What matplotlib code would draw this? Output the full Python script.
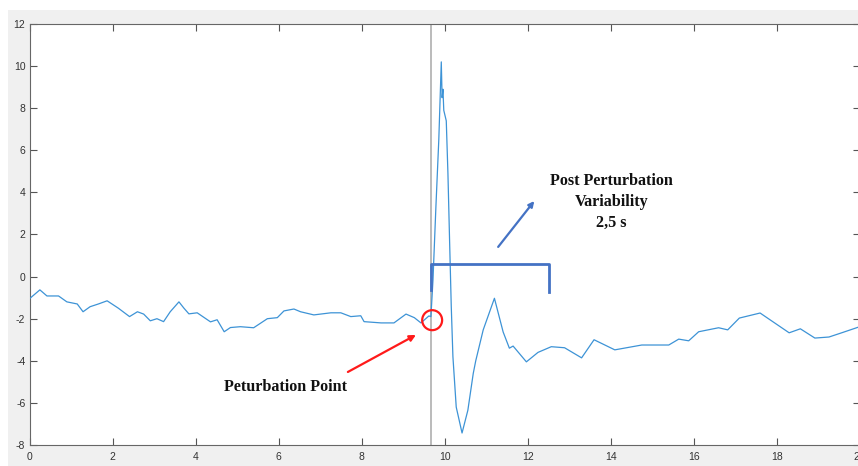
import numpy as np
import matplotlib
matplotlib.use('Agg')
import matplotlib.pyplot as plt
from matplotlib.patches import Ellipse, Rectangle

plt.rcParams['axes.unicode_minus'] = False

# signal (time in s, amplitude)
t = [0.0, 0.25, 0.42, 0.7, 0.9, 1.15, 1.29, 1.46, 1.66, 1.87, 2.14, 2.41,
     2.6, 2.75, 2.91, 3.07, 3.23, 3.39, 3.6, 3.72, 3.84, 4.04, 4.36, 4.52,
     4.69, 4.84, 5.08, 5.4, 5.73, 5.97, 6.13, 6.37, 6.53, 6.85, 7.26, 7.5,
     7.74, 7.98, 8.06, 8.47, 8.78, 9.07, 9.27, 9.43, 9.62, 9.67, 9.72, 9.79,
     9.86, 9.92, 9.94, 9.96, 9.98, 10.04, 10.08, 10.12, 10.16, 10.2, 10.28,
     10.42, 10.56, 10.69, 10.75, 10.93, 11.2, 11.41, 11.56, 11.65, 11.97,
     12.25, 12.57, 12.89, 13.3, 13.6, 14.1, 14.75, 15.4, 15.64, 15.88, 16.12,
     16.6, 16.82, 17.1, 17.6, 17.95, 18.3, 18.57, 18.92, 19.26, 19.58, 20.0]
sig = [-1.05, -0.63, -0.92, -0.92, -1.2, -1.3, -1.67, -1.43, -1.3, -1.15,
       -1.5, -1.9, -1.67, -1.78, -2.1, -2.0, -2.14, -1.67, -1.2, -1.5, -1.77,
       -1.72, -2.15, -2.05, -2.62, -2.42, -2.38, -2.43, -2.0, -1.95, -1.63,
       -1.54, -1.67, -1.82, -1.72, -1.72, -1.9, -1.86, -2.14, -2.2, -2.2,
       -1.78, -1.95, -2.2, -1.87, -1.9, -0.16, 3.3, 6.5, 10.2, 8.5, 8.9, 7.9,
       7.4, 4.9, 1.7, -1.4, -3.8, -6.2, -7.43, -6.35, -4.6, -4.0, -2.53, -1.03,
       -2.63, -3.4, -3.3, -4.05, -3.6, -3.33, -3.38, -3.86, -3.0, -3.48, -3.25,
       -3.25, -2.97, -3.05, -2.62, -2.43, -2.53, -1.97, -1.73, -2.2, -2.67,
       -2.48, -2.92, -2.87, -2.66, -2.38]

t_pert = 9.67          # perturbation instant
window = 2.85          # bracket length drawn on the figure
bracket_y = 0.6

fig = plt.figure(figsize=(8.58, 4.66), dpi=100, facecolor='white')
# matlab-like grey figure area, kept behind the axes
fig.patches.append(Rectangle((8 / 858, 0), 1, 456 / 466, transform=fig.transFigure,
                             facecolor='#f0f0f0', edgecolor='none', zorder=-5))

ax = fig.add_axes([29.5 / 858, 21 / 466, 1 - 29.5 / 858 + 0.002, 421 / 466])
ax.set_facecolor('white')
ax.plot(t, sig, color='#3d93d6', lw=0.9, zorder=3)
ax.axvline(t_pert, color='#b5b5b5', lw=1.3, zorder=2)

ax.set_xlim(0, 20)
ax.set_ylim(-8, 12)
ax.set_xticks(np.arange(0, 21, 2))
ax.set_yticks(np.arange(-8, 13, 2))
ax.tick_params(direction='in', length=5, width=0.8, colors='#555555',
               labelsize=7.5, top=True, right=True, labelcolor='#333333', pad=3)
ax.tick_params(axis='x', pad=5)
for lab in ax.get_xticklabels() + ax.get_yticklabels():
    lab.set_family('Liberation Sans')
for s in ax.spines.values():
    s.set_color('#666666')
    s.set_linewidth(0.8)

# red circle on the perturbation point
ax.add_patch(Ellipse((9.7, -2.07), 0.48, 0.95, fill=False, edgecolor='#ff1a1a',
                     lw=1.6, zorder=5))
ax.annotate('', xy=(9.31, -2.77), xytext=(7.67, -4.53),
            arrowprops=dict(arrowstyle='-|>', color='#ff1a1a', lw=1.6,
                            mutation_scale=9, shrinkA=0, shrinkB=0))
ax.text(6.16, -5.24, 'Peturbation Point', ha='center', va='center',
        family='Liberation Serif', fontweight='bold', fontsize=11.6, color='#111111')

# bracket for post perturbation window
bcol = '#4472c4'
ax.plot([t_pert, t_pert, t_pert + window, t_pert + window],
        [-0.64, bracket_y, bracket_y, -0.73], color=bcol, lw=2, zorder=4,
        solid_joinstyle='round')
ax.annotate('', xy=(12.16, 3.59), xytext=(11.29, 1.41),
            arrowprops=dict(arrowstyle='-|>', color=bcol, lw=1.6,
                            mutation_scale=8, shrinkA=0, shrinkB=0))
ax.text(14.02, 3.55, 'Post Perturbation\nVariability\n2,5 s', ha='center',
        va='center', family='Liberation Serif', fontweight='bold', fontsize=11.6,
        color='#111111', linespacing=1.4)

fig.savefig('out.png', dpi=100, facecolor=fig.get_facecolor())
